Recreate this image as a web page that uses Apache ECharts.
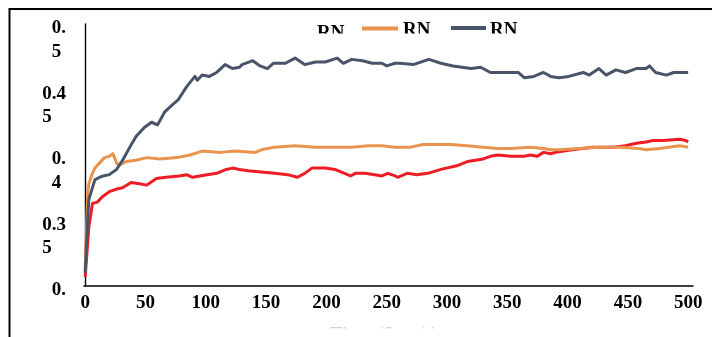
<!DOCTYPE html>
<html>
<head>
<meta charset="utf-8">
<script src="https://cdn.jsdelivr.net/npm/echarts@6/dist/echarts.min.js"></script>
<style>
  html, body { margin: 0; padding: 0; background: #fff; }
  #chart { width: 712px; height: 337px; }
</style>
</head>
<body>
<div id="chart"></div>
<script>
// Steps and values for the three traces
const redX = [0,3,6,10,14,20,26,31,38,45,51,59,67,78,84,89,101,109,117,122,128,135,146,157,168,176,182,188,199,207,215,220,224,232,240,246,251,257,259,267,275,284,295,309,317,330,336,342,353,364,369,375,380,386,390,404,421,438,448,457,465,471,479,493,498,500];
const redY = [0.307,0.345,0.363,0.364,0.368,0.372,0.374,0.375,0.379,0.378,0.377,0.382,0.383,0.384,0.385,0.383,0.385,0.386,0.389,0.390,0.389,0.388,0.387,0.386,0.385,0.383,0.386,0.390,0.390,0.389,0.386,0.384,0.386,0.386,0.385,0.384,0.386,0.384,0.383,0.386,0.385,0.386,0.389,0.392,0.395,0.397,0.399,0.400,0.399,0.399,0.400,0.399,0.402,0.401,0.402,0.404,0.406,0.406,0.407,0.409,0.410,0.411,0.411,0.412,0.411,0.410];

const orangeX = [0,2,3,6,8,12,16,20,23,26,28,34,42,51,62,76,87,97,112,124,141,146,157,174,191,207,221,235,246,257,270,280,303,317,330,342,353,369,380,386,393,409,426,443,459,465,476,493,500];
const orangeY = [0.312,0.370,0.378,0.386,0.390,0.394,0.398,0.399,0.401,0.394,0.392,0.395,0.396,0.398,0.397,0.398,0.400,0.403,0.402,0.403,0.402,0.404,0.406,0.407,0.406,0.406,0.406,0.407,0.407,0.406,0.406,0.408,0.408,0.407,0.406,0.405,0.405,0.406,0.405,0.404,0.404,0.405,0.406,0.406,0.405,0.404,0.405,0.407,0.406];

const grayX = [0,2,3,5,8,12,15,20,26,31,37,42,49,55,60,66,72,77,84,91,93,97,103,109,116,122,128,130,139,145,151,156,166,174,182,191,199,209,214,221,230,238,246,250,257,261,272,285,295,305,320,328,336,344,359,364,372,380,386,393,401,413,418,426,432,440,448,457,465,468,473,482,488,493,500];
const grayY = [0.310,0.350,0.366,0.372,0.381,0.383,0.384,0.385,0.389,0.396,0.406,0.414,0.421,0.425,0.423,0.433,0.438,0.442,0.452,0.460,0.457,0.461,0.460,0.463,0.469,0.466,0.467,0.469,0.472,0.468,0.466,0.470,0.470,0.474,0.469,0.471,0.471,0.474,0.470,0.473,0.472,0.470,0.470,0.468,0.470,0.470,0.469,0.473,0.470,0.468,0.466,0.467,0.463,0.463,0.463,0.459,0.460,0.463,0.460,0.459,0.460,0.463,0.461,0.466,0.461,0.465,0.463,0.466,0.466,0.468,0.463,0.461,0.463,0.463,0.463];

// Axis ticks and their (wrapped) labels
const xTicks = [0,50,100,150,200,250,300,350,400,450,500];
const yTicks = [0.3,0.35,0.4,0.45,0.5];
const yTickLabels = ['0.', '0.3\n5', '0.\n4', '0.4\n5', '0.\n5'];

const seriesNames = ['RN', 'RN', 'RN'];
const colors = ['#EE1D25', '#E9944E', '#4A5469'];
const axisTitle = 'Time (Step/s)';

const FONT = 'Liberation Serif';
const zip = (xs, ys) => xs.map((x, i) => [x, ys[i]]);

const chart = echarts.init(document.getElementById('chart'), null, { renderer: 'canvas' });

const lineSeries = [zip(redX, redY), zip(orangeX, orangeY), zip(grayX, grayY)].map((d, i) => ({
  name: seriesNames[i] + ' '.repeat(i),
  type: 'line',
  data: d,
  showSymbol: false,
  symbol: 'none',
  lineStyle: { width: 3, color: colors[i], join: 'round' },
  itemStyle: { color: colors[i] },
  z: 2 + i
}));

const labelFont = { fontFamily: FONT, fontWeight: 'bold', fontSize: 19, color: '#000' };

chart.setOption({
  animation: false,
  backgroundColor: '#fff',
  grid: { left: 84, right: 19, top: 24, bottom: 51, containLabel: false },
  xAxis: {
    type: 'value',
    min: -1,
    max: 504,
    splitLine: { show: false },
    axisTick: { show: false },
    axisLine: { show: true, lineStyle: { color: '#000', width: 1.6 } },
    axisLabel: Object.assign({
      customValues: xTicks,
      margin: 8
    }, labelFont)
  },
  yAxis: {
    type: 'value',
    min: 0.3,
    max: 0.5,
    splitLine: { show: false },
    axisTick: { show: false },
    axisLine: { show: true, lineStyle: { color: '#000', width: 1.4 } },
    axisLabel: {
      customValues: yTicks,
      margin: 18,
      align: 'right',
      verticalAlign: 'top',
      formatter: function (v) {
        const i = yTicks.findIndex(t => Math.abs(t - v) < 1e-9);
        const parts = (i >= 0 ? yTickLabels[i] : String(v)).split('\n');
        return parts.map((p, k) => '{' + (k ? 'b' : 'a') + '|' + p + '}').join('\n');
      },
      rich: {
        a: Object.assign({ lineHeight: 9, align: 'left' }, labelFont),
        b: Object.assign({ lineHeight: 38, align: 'left' }, labelFont)
      }
    }
  },
  series: lineSeries,
  graphic: [
    // outer frame
    { type: 'rect', shape: { x: 9.5, y: 9, width: 740, height: 360 }, style: { fill: 'none', stroke: '#000', lineWidth: 2 }, z: 10, silent: true },
    // legend
    { type: 'text', style: { text: seriesNames[0], x: 317, y: 24, font: 'bold 19px "' + FONT + '"', fill: '#000', textVerticalAlign: 'top' }, z: 50 },
    { type: 'line', shape: { x1: 362, y1: 28.5, x2: 398, y2: 28.5 }, style: { stroke: colors[1], lineWidth: 4 }, z: 50 },
    { type: 'text', style: { text: seriesNames[1], x: 403, y: 21, font: 'bold 19px "' + FONT + '"', fill: '#000', textVerticalAlign: 'top' }, z: 50 },
    { type: 'line', shape: { x1: 451, y1: 28, x2: 486, y2: 28 }, style: { stroke: colors[2], lineWidth: 4 }, z: 50 },
    { type: 'text', style: { text: seriesNames[2], x: 490, y: 21, font: 'bold 19px "' + FONT + '"', fill: '#000', textVerticalAlign: 'top' }, z: 50 },
    // plot-area edge that hides the lower part of the legend row
    { type: 'rect', shape: { x: 300, y: 33.5, width: 240, height: 10 }, style: { fill: '#fff' }, z: 60, silent: true },
    // horizontal axis title, mostly below the visible frame
    { type: 'text', style: { text: axisTitle, x: 384, y: 326, font: 'bold 19px "' + FONT + '"', fill: '#d0d0d0', textAlign: 'center', textVerticalAlign: 'top' }, z: 50 },
    { type: 'rect', shape: { x: 290, y: 328.5, width: 190, height: 12 }, style: { fill: '#fff' }, z: 60, silent: true }
  ]
});
</script>
</body>
</html>
